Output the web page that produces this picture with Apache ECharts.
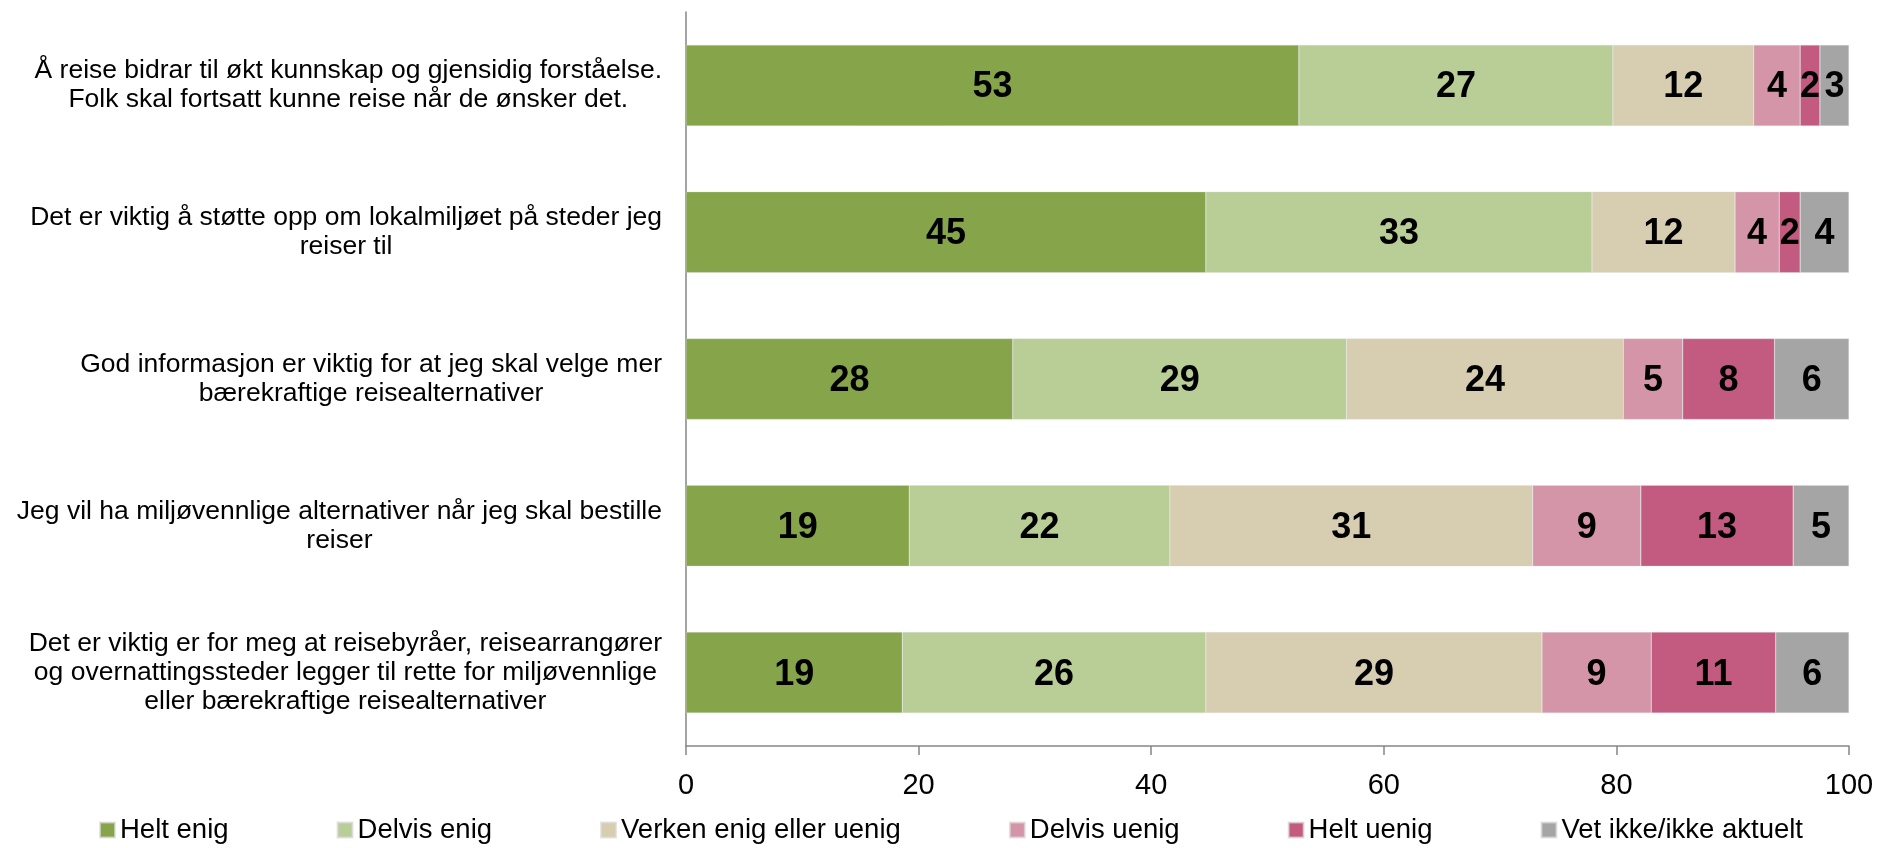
<!DOCTYPE html>
<html>
<head>
<meta charset="utf-8">
<script src="https://cdn.jsdelivr.net/npm/echarts@6/dist/echarts.min.js"></script>
<style>
  html, body { margin: 0; padding: 0; background: #fff; }
  #chart { width: 1880px; height: 848px; }
</style>
</head>
<body>
<div id="chart"></div>
<script>
const categories = [
  'Å reise bidrar til økt kunnskap og gjensidig forståelse.\nFolk skal fortsatt kunne reise når de ønsker det.',
  'Det er viktig å støtte opp om lokalmiljøet på steder jeg\nreiser til',
  'God informasjon er viktig for at jeg skal velge mer\nbærekraftige reisealternativer',
  'Jeg vil ha miljøvennlige alternativer når jeg skal bestille\nreiser',
  'Det er viktig er for meg at reisebyråer, reisearrangører\nog overnattingssteder legger til rette for miljøvennlige\neller bærekraftige reisealternativer'
]

const seriesNames = ['Helt enig', 'Delvis enig', 'Verken enig eller uenig', 'Delvis uenig', 'Helt uenig', 'Vet ikke/ikke aktuelt']
const colors = ['#86a44a', '#b9cd96', '#d7cdb0', '#d495a9', '#c35a80', '#a5a5a5']

const heltEnig = [52.7, 44.7, 28.1, 19.2, 18.6]
const delvisEnig = [27.0, 33.2, 28.7, 22.4, 26.1]
const verken = [12.1, 12.3, 23.8, 31.2, 28.9]
const delvisUenig = [4.0, 3.8, 5.1, 9.3, 9.4]
const heltUenig = [1.7, 1.8, 7.9, 13.1, 10.7]
const vetIkke = [2.5, 4.2, 6.4, 4.8, 6.3]

const xTicks = [0, 20, 40, 60, 80, 100]

const values = [heltEnig, delvisEnig, verken, delvisUenig, heltUenig, vetIkke]
const font = '"Liberation Sans", Arial, sans-serif'

const chart = echarts.init(document.getElementById('chart'))

chart.setOption({
  animation: false,
  color: colors,
  grid: { left: 686, right: 31, top: 12, bottom: 102 },
  legend: {
    top: 811,
    left: 94,
    itemWidth: 15,
    itemHeight: 15,
    itemGap: 108,
    icon: 'rect',
    textStyle: { fontFamily: font, fontSize: 27.5, color: '#000' },
    data: seriesNames
  },
  xAxis: {
    type: 'value',
    min: xTicks[0],
    max: xTicks[xTicks.length - 1],
    interval: 20,
    splitLine: { show: false },
    axisLine: { show: true, lineStyle: { color: '#868686', width: 1.5 } },
    axisTick: { show: true, length: 9, lineStyle: { color: '#868686', width: 1.5 } },
    axisLabel: { fontFamily: font, fontSize: 29, color: '#000', margin: 25 }
  },
  yAxis: {
    type: 'category',
    inverse: true,
    data: categories,
    axisLine: { show: true, lineStyle: { color: '#868686', width: 1.5 } },
    axisTick: { show: false },
    axisLabel: {
      margin: 24,
      formatter: v => v.split('\n').map(l => '{c|' + l + '}').join('\n'),
      rich: {
        c: { align: 'center', fontFamily: font, fontSize: 26.5, lineHeight: 29, color: '#000' }
      }
    }
  },
  series: seriesNames.map((name, i) => ({
    name,
    type: 'bar',
    stack: 'total',
    barWidth: 81,
    data: values[i],
    itemStyle: { color: colors[i], borderColor: 'rgba(220,220,220,0.7)', borderWidth: 0.5 },
    label: {
      show: true,
      position: 'inside',
      offset: [0, 2],
      formatter: p => Math.round(p.value),
      fontFamily: font,
      fontWeight: 'bold',
      fontSize: 36,
      color: '#000'
    }
  }))
})
</script>
</body>
</html>
